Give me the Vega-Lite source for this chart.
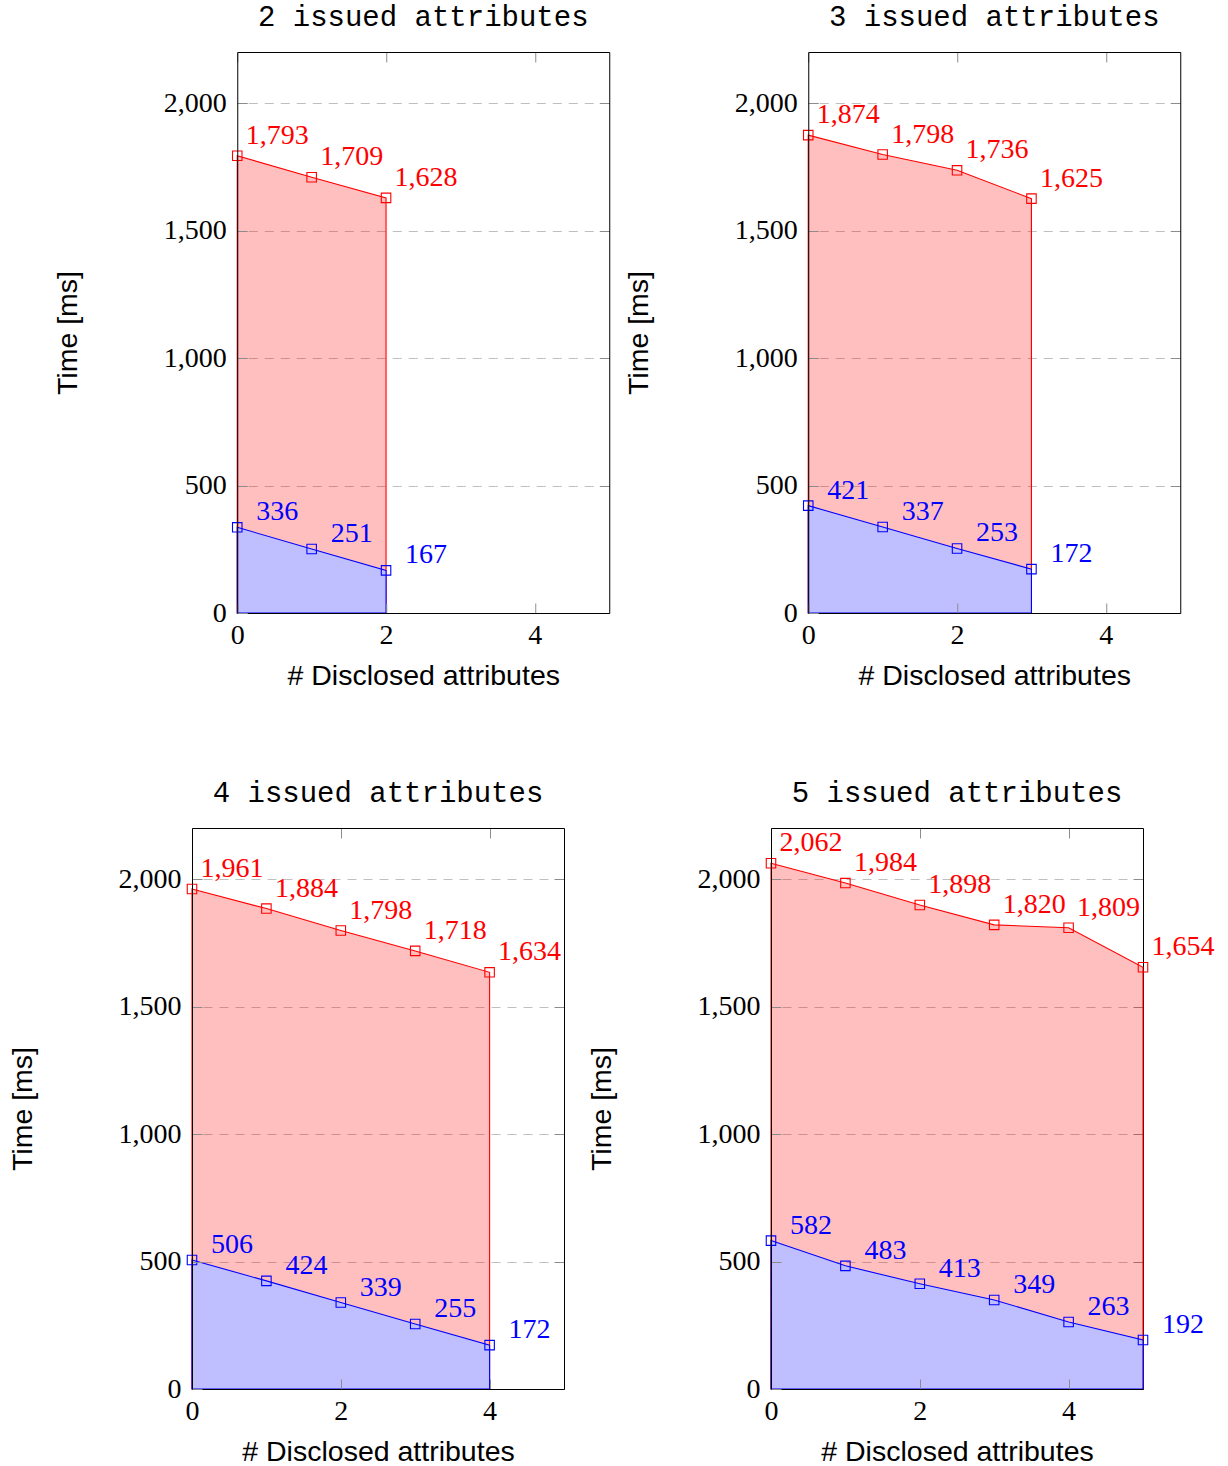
{
  "$schema": "https://vega.github.io/schema/vega-lite/v6.json",
  "padding": {"left": 8, "top": 2, "right": 0, "bottom": 0},
  "config": {
    "view": {"stroke": null},
    "axis": {
      "labelFont": "Liberation Serif", "labelFontSize": 28, "labelColor": "#000",
      "labelFlush": false, "labelOverlap": false,
      "tickSize": -10, "tickColor": "#8c8c8c", "tickWidth": 1,
      "domainColor": "#000", "domainWidth": 1,
      "titleFont": "Liberation Sans", "titleFontSize": 28.5, "titleFontWeight": "normal", "titleColor": "#000",
      "grid": false, "gridColor": "#bfbfbf", "gridDash": [9, 7], "gridWidth": 1
    },
    "title": {"font": "Liberation Mono", "fontSize": 29, "fontWeight": "normal", "color": "#000", "baseline": "alphabetic", "offset": 20, "frame": "group", "anchor": "middle"}
  },
  "data": {"values": [
    {"issued": 2, "series": "upper", "disclosed": 0, "time": 1793},
    {"issued": 2, "series": "upper", "disclosed": 1, "time": 1709},
    {"issued": 2, "series": "upper", "disclosed": 2, "time": 1628},
    {"issued": 2, "series": "lower", "disclosed": 0, "time": 336},
    {"issued": 2, "series": "lower", "disclosed": 1, "time": 251},
    {"issued": 2, "series": "lower", "disclosed": 2, "time": 167},
    {"issued": 3, "series": "upper", "disclosed": 0, "time": 1874},
    {"issued": 3, "series": "upper", "disclosed": 1, "time": 1798},
    {"issued": 3, "series": "upper", "disclosed": 2, "time": 1736},
    {"issued": 3, "series": "upper", "disclosed": 3, "time": 1625},
    {"issued": 3, "series": "lower", "disclosed": 0, "time": 421},
    {"issued": 3, "series": "lower", "disclosed": 1, "time": 337},
    {"issued": 3, "series": "lower", "disclosed": 2, "time": 253},
    {"issued": 3, "series": "lower", "disclosed": 3, "time": 172},
    {"issued": 4, "series": "upper", "disclosed": 0, "time": 1961},
    {"issued": 4, "series": "upper", "disclosed": 1, "time": 1884},
    {"issued": 4, "series": "upper", "disclosed": 2, "time": 1798},
    {"issued": 4, "series": "upper", "disclosed": 3, "time": 1718},
    {"issued": 4, "series": "upper", "disclosed": 4, "time": 1634},
    {"issued": 4, "series": "lower", "disclosed": 0, "time": 506},
    {"issued": 4, "series": "lower", "disclosed": 1, "time": 424},
    {"issued": 4, "series": "lower", "disclosed": 2, "time": 339},
    {"issued": 4, "series": "lower", "disclosed": 3, "time": 255},
    {"issued": 4, "series": "lower", "disclosed": 4, "time": 172},
    {"issued": 5, "series": "upper", "disclosed": 0, "time": 2062},
    {"issued": 5, "series": "upper", "disclosed": 1, "time": 1984},
    {"issued": 5, "series": "upper", "disclosed": 2, "time": 1898},
    {"issued": 5, "series": "upper", "disclosed": 3, "time": 1820},
    {"issued": 5, "series": "upper", "disclosed": 4, "time": 1809},
    {"issued": 5, "series": "upper", "disclosed": 5, "time": 1654},
    {"issued": 5, "series": "lower", "disclosed": 0, "time": 582},
    {"issued": 5, "series": "lower", "disclosed": 1, "time": 483},
    {"issued": 5, "series": "lower", "disclosed": 2, "time": 413},
    {"issued": 5, "series": "lower", "disclosed": 3, "time": 349},
    {"issued": 5, "series": "lower", "disclosed": 4, "time": 263},
    {"issued": 5, "series": "lower", "disclosed": 5, "time": 192}
  ]},
  "center": true,
  "spacing": 88,
  "vconcat": [
    {
      "spacing": 14,
      "hconcat": [
        {
          "title": "2 issued attributes",
          "width": 372, "height": 561,
          "transform": [{"filter": "datum.issued == 2"}],
          "resolve": {"axis": {"x": "independent", "y": "independent"}},
          "encoding": {
            "x": {"field": "disclosed", "type": "quantitative", "scale": {"domain": [0, 5], "nice": false, "zero": false}, "axis": null},
            "y": {"field": "time", "type": "quantitative", "scale": {"domain": [0, 2200], "nice": false}, "axis": null}
          },
          "layer": [
            {"transform": [{"filter": "datum.series == 'upper'"}],
             "mark": {"type": "area", "fill": "#ff0000", "fillOpacity": 0.25, "stroke": "#ff0000", "strokeWidth": 1.1},
             "encoding": {
               "x": {"field": "disclosed", "type": "quantitative", "scale": {"domain": [0, 5], "nice": false, "zero": false},
                     "axis": {"orient": "bottom", "values": [0, 2, 4], "format": "d", "labelPadding": 18, "title": "# Disclosed attributes", "titleY": 71, "titleBaseline": "alphabetic", "zindex": 1}},
               "y": {"field": "time", "type": "quantitative", "scale": {"domain": [0, 2200], "nice": false}, "stack": null,
                     "axis": {"orient": "left", "values": [0, 500, 1000, 1500, 2000], "format": ",d", "labelPadding": 21, "title": "Time [ms]", "titleX": -161, "titleY": 280.5, "titleBaseline": "alphabetic", "zindex": 1}}
             }},
            {"transform": [{"filter": "datum.series == 'lower'"}],
             "mark": {"type": "area", "fill": "#bfbfff", "fillOpacity": 1, "stroke": "#0000ff", "strokeWidth": 1.1},
             "encoding": {
               "x": {"field": "disclosed", "type": "quantitative", "scale": {"domain": [0, 5], "nice": false, "zero": false},
                     "axis": {"orient": "top", "values": [0, 2, 4], "labels": false, "title": null, "zindex": 1}},
               "y": {"field": "time", "type": "quantitative", "scale": {"domain": [0, 2200], "nice": false}, "stack": null,
                     "axis": {"orient": "right", "values": [0, 500, 1000, 1500, 2000], "labels": false, "title": null, "grid": true, "zindex": 0}}
             }},
            {"mark": {"type": "point", "shape": "square", "filled": false, "size": 90, "strokeWidth": 1.1, "opacity": 1},
             "encoding": {"color": {"field": "series", "type": "nominal", "scale": {"domain": ["upper", "lower"], "range": ["#ff0000", "#0000ff"]}, "legend": null}}},
            {"transform": [{"filter": "datum.series == 'upper'"}],
             "mark": {"type": "text", "font": "Liberation Serif", "fontSize": 28, "align": "center", "baseline": "alphabetic", "dx": 40, "dy": -12, "color": "#ff0000"},
             "encoding": {"text": {"field": "time", "type": "quantitative", "format": ","}}},
            {"transform": [{"filter": "datum.series == 'lower'"}],
             "mark": {"type": "text", "font": "Liberation Serif", "fontSize": 28, "align": "center", "baseline": "alphabetic", "dx": 40, "dy": -7, "color": "#0000ff"},
             "encoding": {"text": {"field": "time", "type": "quantitative", "format": ","}}}
          ]
        },
        {
          "title": "3 issued attributes",
          "width": 372, "height": 561,
          "transform": [{"filter": "datum.issued == 3"}],
          "resolve": {"axis": {"x": "independent", "y": "independent"}},
          "encoding": {
            "x": {"field": "disclosed", "type": "quantitative", "scale": {"domain": [0, 5], "nice": false, "zero": false}, "axis": null},
            "y": {"field": "time", "type": "quantitative", "scale": {"domain": [0, 2200], "nice": false}, "axis": null}
          },
          "layer": [
            {"transform": [{"filter": "datum.series == 'upper'"}],
             "mark": {"type": "area", "fill": "#ff0000", "fillOpacity": 0.25, "stroke": "#ff0000", "strokeWidth": 1.1},
             "encoding": {
               "x": {"field": "disclosed", "type": "quantitative", "scale": {"domain": [0, 5], "nice": false, "zero": false},
                     "axis": {"orient": "bottom", "values": [0, 2, 4], "format": "d", "labelPadding": 18, "title": "# Disclosed attributes", "titleY": 71, "titleBaseline": "alphabetic", "zindex": 1}},
               "y": {"field": "time", "type": "quantitative", "scale": {"domain": [0, 2200], "nice": false}, "stack": null,
                     "axis": {"orient": "left", "values": [0, 500, 1000, 1500, 2000], "format": ",d", "labelPadding": 21, "title": "Time [ms]", "titleX": -161, "titleY": 280.5, "titleBaseline": "alphabetic", "zindex": 1}}
             }},
            {"transform": [{"filter": "datum.series == 'lower'"}],
             "mark": {"type": "area", "fill": "#bfbfff", "fillOpacity": 1, "stroke": "#0000ff", "strokeWidth": 1.1},
             "encoding": {
               "x": {"field": "disclosed", "type": "quantitative", "scale": {"domain": [0, 5], "nice": false, "zero": false},
                     "axis": {"orient": "top", "values": [0, 2, 4], "labels": false, "title": null, "zindex": 1}},
               "y": {"field": "time", "type": "quantitative", "scale": {"domain": [0, 2200], "nice": false}, "stack": null,
                     "axis": {"orient": "right", "values": [0, 500, 1000, 1500, 2000], "labels": false, "title": null, "grid": true, "zindex": 0}}
             }},
            {"mark": {"type": "point", "shape": "square", "filled": false, "size": 90, "strokeWidth": 1.1, "opacity": 1},
             "encoding": {"color": {"field": "series", "type": "nominal", "scale": {"domain": ["upper", "lower"], "range": ["#ff0000", "#0000ff"]}, "legend": null}}},
            {"transform": [{"filter": "datum.series == 'upper'"}],
             "mark": {"type": "text", "font": "Liberation Serif", "fontSize": 28, "align": "center", "baseline": "alphabetic", "dx": 40, "dy": -12, "color": "#ff0000"},
             "encoding": {"text": {"field": "time", "type": "quantitative", "format": ","}}},
            {"transform": [{"filter": "datum.series == 'lower'"}],
             "mark": {"type": "text", "font": "Liberation Serif", "fontSize": 28, "align": "center", "baseline": "alphabetic", "dx": 40, "dy": -7, "color": "#0000ff"},
             "encoding": {"text": {"field": "time", "type": "quantitative", "format": ","}}}
          ]
        }
      ]
    },
    {
      "spacing": 10,
      "hconcat": [
        {
          "spacing": 22,
          "hconcat": [
            {
              "title": "4 issued attributes",
              "width": 372, "height": 561,
              "transform": [{"filter": "datum.issued == 4"}],
              "resolve": {"axis": {"x": "independent", "y": "independent"}},
              "encoding": {
                "x": {"field": "disclosed", "type": "quantitative", "scale": {"domain": [0, 5], "nice": false, "zero": false}, "axis": null},
                "y": {"field": "time", "type": "quantitative", "scale": {"domain": [0, 2200], "nice": false}, "axis": null}
              },
              "layer": [
                {"transform": [{"filter": "datum.series == 'upper'"}],
                 "mark": {"type": "area", "fill": "#ff0000", "fillOpacity": 0.25, "stroke": "#ff0000", "strokeWidth": 1.1},
                 "encoding": {
                   "x": {"field": "disclosed", "type": "quantitative", "scale": {"domain": [0, 5], "nice": false, "zero": false},
                         "axis": {"orient": "bottom", "values": [0, 2, 4], "format": "d", "labelPadding": 18, "title": "# Disclosed attributes", "titleY": 71, "titleBaseline": "alphabetic", "zindex": 1}},
                   "y": {"field": "time", "type": "quantitative", "scale": {"domain": [0, 2200], "nice": false}, "stack": null,
                         "axis": {"orient": "left", "values": [0, 500, 1000, 1500, 2000], "format": ",d", "labelPadding": 21, "title": "Time [ms]", "titleX": -161, "titleY": 280.5, "titleBaseline": "alphabetic", "zindex": 1}}
                 }},
                {"transform": [{"filter": "datum.series == 'lower'"}],
                 "mark": {"type": "area", "fill": "#bfbfff", "fillOpacity": 1, "stroke": "#0000ff", "strokeWidth": 1.1},
                 "encoding": {
                   "x": {"field": "disclosed", "type": "quantitative", "scale": {"domain": [0, 5], "nice": false, "zero": false},
                         "axis": {"orient": "top", "values": [0, 2, 4], "labels": false, "title": null, "zindex": 1}},
                   "y": {"field": "time", "type": "quantitative", "scale": {"domain": [0, 2200], "nice": false}, "stack": null,
                         "axis": {"orient": "right", "values": [0, 500, 1000, 1500, 2000], "labels": false, "title": null, "grid": true, "zindex": 0}}
                 }},
                {"mark": {"type": "point", "shape": "square", "filled": false, "size": 90, "strokeWidth": 1.1, "opacity": 1},
                 "encoding": {"color": {"field": "series", "type": "nominal", "scale": {"domain": ["upper", "lower"], "range": ["#ff0000", "#0000ff"]}, "legend": null}}},
                {"transform": [{"filter": "datum.series == 'upper'"}],
                 "mark": {"type": "text", "font": "Liberation Serif", "fontSize": 28, "align": "center", "baseline": "alphabetic", "dx": 40, "dy": -12, "color": "#ff0000"},
                 "encoding": {"text": {"field": "time", "type": "quantitative", "format": ","}}},
                {"transform": [{"filter": "datum.series == 'lower'"}],
                 "mark": {"type": "text", "font": "Liberation Serif", "fontSize": 28, "align": "center", "baseline": "alphabetic", "dx": 40, "dy": -7, "color": "#0000ff"},
                 "encoding": {"text": {"field": "time", "type": "quantitative", "format": ","}}}
              ]
            },
            {
              "title": "5 issued attributes",
              "width": 372, "height": 561,
              "transform": [{"filter": "datum.issued == 5"}],
              "resolve": {"axis": {"x": "independent", "y": "independent"}},
              "encoding": {
                "x": {"field": "disclosed", "type": "quantitative", "scale": {"domain": [0, 5], "nice": false, "zero": false}, "axis": null},
                "y": {"field": "time", "type": "quantitative", "scale": {"domain": [0, 2200], "nice": false}, "axis": null}
              },
              "layer": [
                {"transform": [{"filter": "datum.series == 'upper'"}],
                 "mark": {"type": "area", "fill": "#ff0000", "fillOpacity": 0.25, "stroke": "#ff0000", "strokeWidth": 1.1},
                 "encoding": {
                   "x": {"field": "disclosed", "type": "quantitative", "scale": {"domain": [0, 5], "nice": false, "zero": false},
                         "axis": {"orient": "bottom", "values": [0, 2, 4], "format": "d", "labelPadding": 18, "title": "# Disclosed attributes", "titleY": 71, "titleBaseline": "alphabetic", "zindex": 1}},
                   "y": {"field": "time", "type": "quantitative", "scale": {"domain": [0, 2200], "nice": false}, "stack": null,
                         "axis": {"orient": "left", "values": [0, 500, 1000, 1500, 2000], "format": ",d", "labelPadding": 21, "title": "Time [ms]", "titleX": -161, "titleY": 280.5, "titleBaseline": "alphabetic", "zindex": 1}}
                 }},
                {"transform": [{"filter": "datum.series == 'lower'"}],
                 "mark": {"type": "area", "fill": "#bfbfff", "fillOpacity": 1, "stroke": "#0000ff", "strokeWidth": 1.1},
                 "encoding": {
                   "x": {"field": "disclosed", "type": "quantitative", "scale": {"domain": [0, 5], "nice": false, "zero": false},
                         "axis": {"orient": "top", "values": [0, 2, 4], "labels": false, "title": null, "zindex": 1}},
                   "y": {"field": "time", "type": "quantitative", "scale": {"domain": [0, 2200], "nice": false}, "stack": null,
                         "axis": {"orient": "right", "values": [0, 500, 1000, 1500, 2000], "labels": false, "title": null, "grid": true, "zindex": 0}}
                 }},
                {"mark": {"type": "point", "shape": "square", "filled": false, "size": 90, "strokeWidth": 1.1, "opacity": 1},
                 "encoding": {"color": {"field": "series", "type": "nominal", "scale": {"domain": ["upper", "lower"], "range": ["#ff0000", "#0000ff"]}, "legend": null}}},
                {"transform": [{"filter": "datum.series == 'upper'"}],
                 "mark": {"type": "text", "font": "Liberation Serif", "fontSize": 28, "align": "center", "baseline": "alphabetic", "dx": 40, "dy": -12, "color": "#ff0000"},
                 "encoding": {"text": {"field": "time", "type": "quantitative", "format": ","}}},
                {"transform": [{"filter": "datum.series == 'lower'"}],
                 "mark": {"type": "text", "font": "Liberation Serif", "fontSize": 28, "align": "center", "baseline": "alphabetic", "dx": 40, "dy": -7, "color": "#0000ff"},
                 "encoding": {"text": {"field": "time", "type": "quantitative", "format": ","}}}
              ]
            }
          ]
        },
        {"width": 1, "height": 10, "data": {"values": []}, "mark": "point"}
      ]
    }
  ]
}
